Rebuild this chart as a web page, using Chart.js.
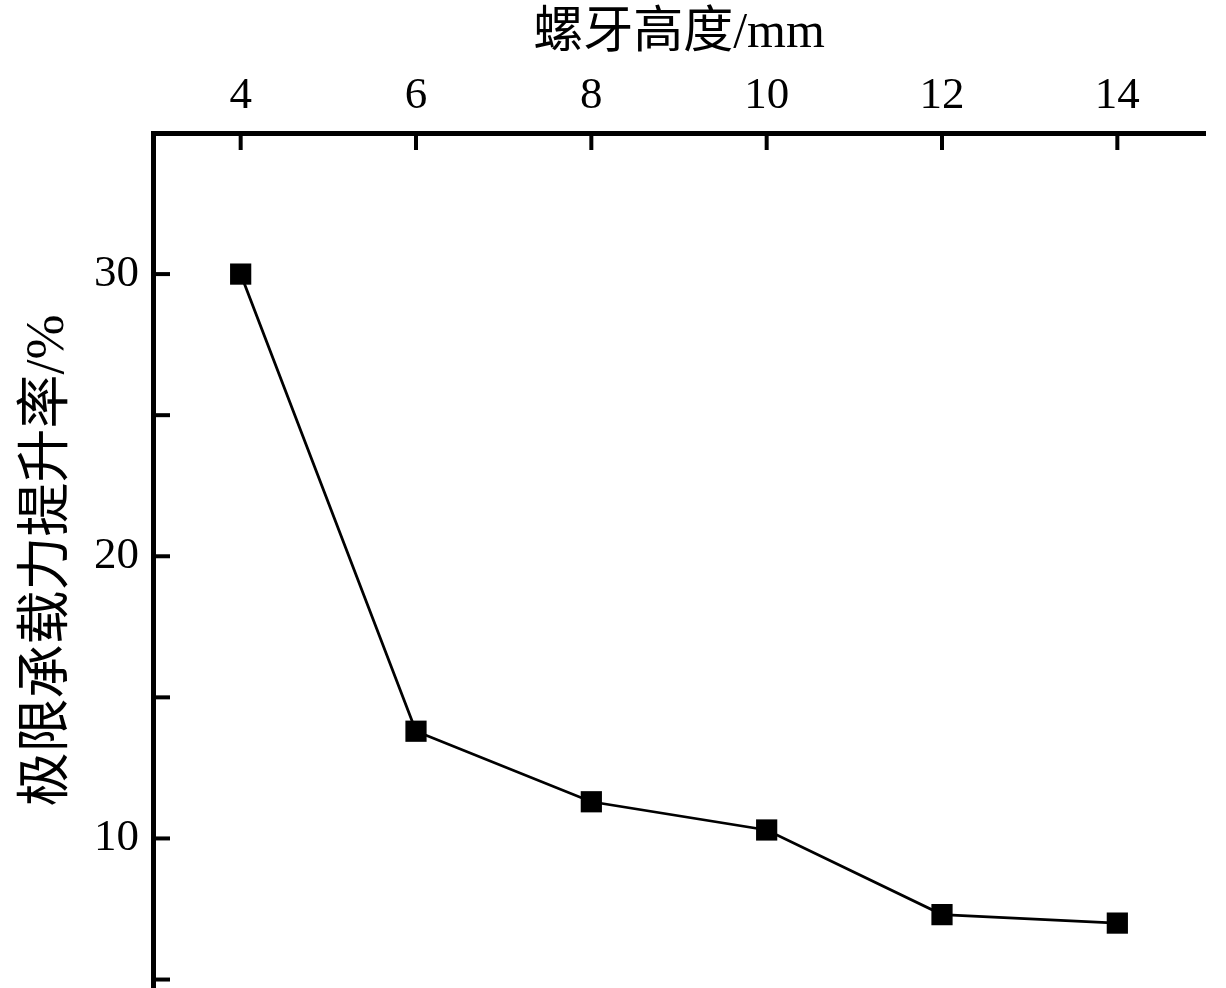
<!DOCTYPE html>
<html>
<head>
<meta charset="utf-8">
<title>螺牙高度</title>
<script src="https://cdn.jsdelivr.net/npm/chart.js@4/dist/chart.umd.min.js"></script>
<style>
  body { margin: 0; background: #fff; }
  canvas { display: block; }
</style>
</head>
<body>
<canvas id="chart" width="1226" height="988"></canvas>
<script>
// data
const threadHeights = [4, 6, 8, 10, 12, 14];
const liftRates = [30.0, 13.8, 11.3, 10.3, 7.3, 7.0];
const xTickValues = [4, 6, 8, 10, 12, 14];
const yTickValues = [10, 20, 30];
const yMinorValues = [5, 15, 25];

const serif = "'Liberation Serif', 'Times New Roman', 'Noto Sans CJK SC', serif";

// ticks point inward, so draw them ourselves with the chart's scales
const innerTicks = {
    id: 'innerTicks',
    afterDraw(chart) {
        const ctx = chart.ctx;
        const area = chart.chartArea;
        const xs = chart.scales.x, ys = chart.scales.y;
        ctx.save();
        ctx.strokeStyle = '#000';
        ctx.lineWidth = 4;
        xTickValues.forEach(v => {
            const px = xs.getPixelForValue(v);
            ctx.beginPath();
            ctx.moveTo(px, area.top);
            ctx.lineTo(px, area.top + 17);
            ctx.stroke();
        });
        yTickValues.concat(yMinorValues).forEach(v => {
            const py = ys.getPixelForValue(v);
            ctx.beginPath();
            ctx.moveTo(area.left, py);
            ctx.lineTo(area.left + 17, py);
            ctx.stroke();
        });
        ctx.restore();
    }
};

new Chart(document.getElementById('chart'), {
    type: 'scatter',
    data: {
        datasets: [{
            data: threadHeights.map((h, i) => ({ x: h, y: liftRates[i] })),
            showLine: true,
            borderColor: '#000',
            borderWidth: 2.8,
            backgroundColor: '#000',
            pointStyle: 'rect',
            pointRadius: 15,
            pointHoverRadius: 15,
            pointBorderWidth: 0
        }]
    },
    options: {
        responsive: false,
        animation: false,
        events: [],
        layout: { autoPadding: false, padding: { top: 0, left: 0, right: 21, bottom: 0 } },
        plugins: { legend: { display: false }, tooltip: { enabled: false } },
        scales: {
            x: {
                type: 'linear',
                position: 'top',
                min: 3,
                max: 15,
                afterBuildTicks: s => { s.ticks = xTickValues.map(v => ({ value: v })); },
                afterFit: s => { s.height = 133; s.paddingLeft = 0; s.paddingRight = 0; },
                grid: { display: false, drawTicks: false },
                border: { display: true, color: '#000', width: 5 },
                ticks: { color: '#000', font: { family: serif, size: 45 }, padding: 10 },
                title: {
                    display: true,
                    text: '螺牙高度/mm',
                    color: '#000',
                    font: { family: serif, size: 50 },
                    padding: { top: 4, bottom: 0 }
                }
            },
            y: {
                type: 'linear',
                position: 'left',
                min: 4.7,
                max: 35,
                afterBuildTicks: s => { s.ticks = yTickValues.map(v => ({ value: v })); },
                afterFit: s => { s.width = 153; s.paddingTop = 0; s.paddingBottom = 0; },
                grid: { display: false, drawTicks: false },
                border: { display: true, color: '#000', width: 5 },
                ticks: { color: '#000', font: { family: serif, size: 45 }, padding: 14 },
                title: {
                    display: true,
                    text: '极限承载力提升率/%',
                    color: '#000',
                    font: { family: serif, size: 54 },
                    padding: { top: 16, bottom: 0 }
                }
            }
        }
    },
    plugins: [innerTicks]
});
</script>
</body>
</html>
